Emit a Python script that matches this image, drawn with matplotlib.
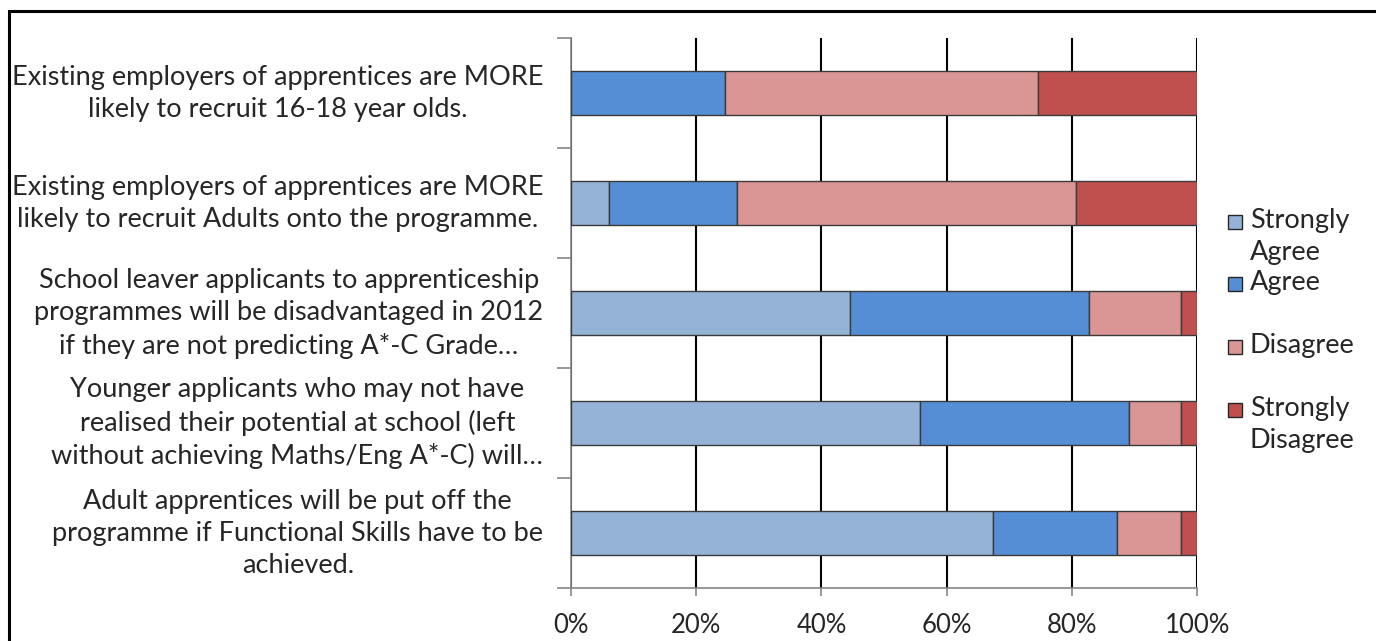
import numpy as np
import matplotlib.pyplot as plt
from matplotlib.patches import Rectangle
from matplotlib.transforms import ScaledTranslation

# survey statements, top to bottom
statements = [
    "Existing employers of apprentices are MORE\nlikely to recruit 16-18 year olds.",
    "Existing employers of apprentices are MORE\nlikely to recruit Adults onto the programme.",
    "School leaver applicants to apprenticeship\nprogrammes will be disadvantaged in 2012\nif they are not predicting A*-C Grade\u2026",
    "Younger applicants who may not have\nrealised their potential at school (left\nwithout achieving Maths/Eng A*-C) will\u2026",
    "Adult apprentices will be put off the\nprogramme if Functional Skills have to be\nachieved.",
]

# share of responses, percent
strongly_agree = [0.0, 6.1, 44.5, 55.8, 67.4]
agree = [24.6, 20.4, 38.2, 33.3, 19.8]
disagree = [50.0, 54.2, 14.7, 8.3, 10.2]
strongly_disagree = [25.4, 19.3, 2.6, 2.6, 2.6]

series_names = ["Strongly\nAgree", "Agree", "Disagree", "Strongly\nDisagree"]
series_vals = [strongly_agree, agree, disagree, strongly_disagree]
colors = ["#95B3D7", "#558ED5", "#D99694", "#C0504D"]

plt.rcParams['font.family'] = ['Lato', 'DejaVu Sans']
txt_col = '#262626'

fig = plt.figure(figsize=(13.76, 6.41), dpi=100)
ax = fig.add_axes([0.415, 0.083, 0.455, 0.858])

y = np.arange(len(statements))
left = np.zeros(len(statements))
for vals, c in zip(series_vals, colors):
    vals = np.array(vals)
    ax.barh(y, vals, left=left, height=0.4, color=c, edgecolor='#3a3a3a',
            linewidth=1.0, zorder=3)
    left += vals

ax.set_xlim(0, 100)
ax.set_ylim(len(statements) - 0.5, -0.5)
ax.set_xticks(np.arange(0, 101, 20))
ax.set_xticklabels([f"{v}%" for v in range(0, 101, 20)], fontsize=18.5, color=txt_col)
ax.grid(axis='x', color='black', linewidth=1.5, zorder=0)

ax.set_yticks(y)
ax.set_yticklabels(statements, fontsize=19.5, color=txt_col, linespacing=1.35)
ax.set_yticks(np.arange(-0.5, len(statements), 1), minor=True)
ax.tick_params(axis='y', which='major', length=0, pad=20)
ax.tick_params(axis='y', which='minor', length=10, color='#868686', width=1.2)
ax.tick_params(axis='x', length=6, color='#868686', width=1.2, pad=12)
# centre each wrapped label and nudge it up a little, like the original
nudge = ScaledTranslation(0, 4 / 72, fig.dpi_scale_trans)
for lab in ax.get_yticklabels():
    lab.set_multialignment('center')
    lab.set_transform(lab.get_transform() + nudge)

for s in ['top', 'right']:
    ax.spines[s].set_visible(False)
for s in ['left', 'bottom']:
    ax.spines[s].set_color('#868686')
    ax.spines[s].set_linewidth(1.2)

# legend drawn by hand so markers sit on the first text line
W, H = 1376, 641
ys = [222, 284, 347, 410]
for name, c, yy in zip(series_names, colors, ys):
    fig.patches.append(Rectangle((1228 / W, 1 - (yy + 7) / H), 14 / W, 14 / H,
                                 transform=fig.transFigure, facecolor=c,
                                 edgecolor='#262626', linewidth=1.0))
    fig.text(1250 / W, 1 - (yy - 14) / H, name, fontsize=19.5, color=txt_col,
             va='top', ha='left', linespacing=1.35)

# outer frame (runs off the right and bottom edge)
fig.patches.append(Rectangle((9 / W, -0.2), 1.2, 1.2 - 12 / H + 0.001,
                             transform=fig.transFigure, fill=False,
                             edgecolor='black', linewidth=2.2, clip_on=False))

fig.savefig('out.png', dpi=100)
